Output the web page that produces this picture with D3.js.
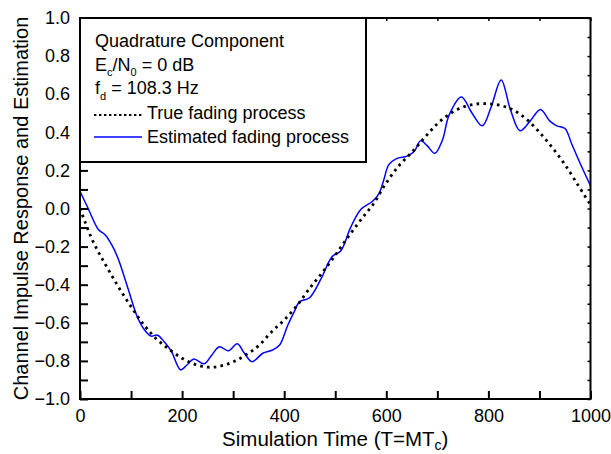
<!DOCTYPE html>
<html>
<head>
<meta charset="utf-8">
<script src="https://cdn.jsdelivr.net/npm/d3@7"></script>
<style>
  body { margin: 0; background: #fff; }
  svg { display: block; font-family: "Liberation Sans", Arial, Helvetica, sans-serif; }
</style>
</head>
<body>
<script>
// true fading process (dotted)
const timeTrue = [0, 25, 50, 75, 100, 125, 150, 175, 200, 225, 250, 275, 300, 325, 350, 375, 400, 425, 450, 475,
    500, 525, 550, 575, 600, 625, 650, 675, 700, 725, 750, 775, 800, 825, 850, 875, 900, 925, 950, 975, 1000]
const trueFading = [0.0, -0.17, -0.295, -0.41, -0.515, -0.61, -0.685, -0.74, -0.786, -0.818, -0.833, -0.827, -0.805, -0.768, -0.72, -0.648, -0.585, -0.51, -0.418, -0.335,
    -0.245, -0.15, -0.06, 0.025, 0.135, 0.225, 0.295, 0.372, 0.445, 0.498, 0.532, 0.548, 0.55, 0.54, 0.515, 0.468, 0.4, 0.32, 0.23, 0.125, 0.02]

// estimated fading process (blue)
const timeEst = [0, 16, 36, 50, 62, 75, 94, 114, 130, 139, 152, 165, 179, 197, 210, 223, 243, 258, 273, 291,
    308, 322, 337, 358, 377, 391, 407, 420, 430, 449, 472, 494, 511, 530, 550, 573, 586, 595, 605, 620,
    641, 655, 667, 680, 695, 710, 723, 747, 768, 788, 805, 825, 843, 862, 882, 902, 920, 934, 950, 963, 980, 1000]
const estFading = [0.09, 0.0, -0.11, -0.14, -0.19, -0.265, -0.42, -0.58, -0.65, -0.67, -0.665, -0.7, -0.75, -0.847, -0.82, -0.79, -0.815, -0.77, -0.726, -0.747,
    -0.71, -0.76, -0.804, -0.76, -0.743, -0.717, -0.613, -0.54, -0.49, -0.47, -0.37, -0.252, -0.222, -0.1, -0.005, 0.038, 0.08, 0.15, 0.23, 0.262,
    0.275, 0.3, 0.355, 0.33, 0.29, 0.36, 0.49, 0.585, 0.5, 0.434, 0.53, 0.675, 0.52, 0.408, 0.46, 0.52, 0.46, 0.434, 0.42, 0.34, 0.235, 0.12]

const xTickValues = d3.range(0, 1001, 100)
const xLabelValues = [0, 200, 400, 600, 800, 1000]
const yTickValues = d3.range(-10, 11).map(d => d / 10)
const yLabelValues = [-1.0, -0.8, -0.6, -0.4, -0.2, 0.0, 0.2, 0.4, 0.6, 0.8, 1.0]

const width = 611
const height = 454
const plotLeft = 80, plotRight = 590.5, plotTop = 18, plotBottom = 399

const x = d3.scaleLinear([0, 1000], [plotLeft, plotRight])
const y = d3.scaleLinear([-1, 1], [plotBottom, plotTop])

const svg = d3.select("body").append("svg")
    .attr("width", width)
    .attr("height", height)

// curves
const clipId = "plotclip"
svg.append("clipPath").attr("id", clipId)
    .append("rect").attr("x", plotLeft).attr("y", plotTop).attr("width", plotRight - plotLeft).attr("height", plotBottom - plotTop)

const line = d3.line().x(d => x(d[0])).y(d => y(d[1])).curve(d3.curveCatmullRom.alpha(0.5))

svg.append("path")
    .datum(d3.zip(timeEst, estFading))
    .attr("clip-path", `url(#${clipId})`)
    .attr("fill", "none")
    .attr("stroke", "#0000ff")
    .attr("stroke-width", 1.5)
    .attr("d", line)

svg.append("path")
    .datum(d3.zip(timeTrue, trueFading))
    .attr("clip-path", `url(#${clipId})`)
    .attr("fill", "none")
    .attr("stroke", "#000")
    .attr("stroke-width", 2.8)
    .attr("stroke-dasharray", "2.6,4.2")
    .attr("d", line)

// axes, ticks pointing inward
const fmtY = d3.format(".1f")

svg.append("g")
    .attr("transform", `translate(0,${plotBottom})`)
    .call(d3.axisBottom(x).tickValues(xTickValues).tickSizeInner(-8).tickSizeOuter(0).tickPadding(10)
        .tickFormat(d => xLabelValues.includes(d) ? d : ""))
    .call(g => g.select(".domain").remove())
    .call(g => g.selectAll(".tick line").attr("stroke", "#000").attr("stroke-width", 2))
    .call(g => g.selectAll("text").attr("font-size", 18).attr("font-family", null).attr("fill", "#000"))

svg.append("g")
    .attr("transform", `translate(${plotLeft},0)`)
    .call(d3.axisLeft(y).tickValues(yTickValues).tickSizeInner(-8).tickSizeOuter(0).tickPadding(10)
        .tickFormat(d => yLabelValues.some(v => Math.abs(v - d) < 1e-9) ? fmtY(d) : ""))
    .call(g => g.select(".domain").remove())
    .call(g => g.selectAll(".tick line").attr("stroke", "#000").attr("stroke-width", 2))
    .call(g => g.selectAll("text").attr("font-size", 18).attr("font-family", null).attr("fill", "#000"))

svg.append("g")
    .attr("transform", `translate(0,${plotTop})`)
    .call(d3.axisTop(x).tickValues(xTickValues).tickSizeInner(-3).tickSizeOuter(0).tickFormat(""))
    .call(g => g.select(".domain").remove())
    .call(g => g.selectAll(".tick line").attr("stroke", "#000").attr("stroke-width", 1.5))

svg.append("g")
    .attr("transform", `translate(${plotRight},0)`)
    .call(d3.axisRight(y).tickValues(yTickValues).tickSizeInner(-3).tickSizeOuter(0).tickFormat(""))
    .call(g => g.select(".domain").remove())
    .call(g => g.selectAll(".tick line").attr("stroke", "#000").attr("stroke-width", 1.5))

// frame
svg.append("rect")
    .attr("x", plotLeft).attr("y", plotTop)
    .attr("width", plotRight - plotLeft).attr("height", plotBottom - plotTop)
    .attr("fill", "none").attr("stroke", "#000").attr("stroke-width", 2)

// legend box
const lg = svg.append("g").attr("font-size", 18)
lg.append("rect")
    .attr("x", plotLeft).attr("y", plotTop)
    .attr("width", 286).attr("height", 144)
    .attr("fill", "#fff").attr("stroke", "#000").attr("stroke-width", 2)

lg.append("text").attr("x", 95).attr("y", 47).text("Quadrature Component")

const t2 = lg.append("text").attr("x", 95).attr("y", 71)
t2.append("tspan").text("E")
t2.append("tspan").attr("font-size", 11).attr("dy", 5).text("c")
t2.append("tspan").attr("dy", -5).text("/N")
t2.append("tspan").attr("font-size", 11).attr("dy", 5).text("0")
t2.append("tspan").attr("dy", -5).text(" = 0 dB")

const t3 = lg.append("text").attr("x", 95).attr("y", 94)
t3.append("tspan").text("f")
t3.append("tspan").attr("font-size", 11).attr("dy", 6).text("d")
t3.append("tspan").attr("dy", -6).text(" = 108.3 Hz")

lg.append("line").attr("x1", 94).attr("x2", 142).attr("y1", 115).attr("y2", 115)
    .attr("stroke", "#000").attr("stroke-width", 2).attr("stroke-dasharray", "2.4,2.6")
lg.append("text").attr("x", 147).attr("y", 119).text("True fading process")

lg.append("line").attr("x1", 94).attr("x2", 142).attr("y1", 137).attr("y2", 137)
    .attr("stroke", "#0000ff").attr("stroke-width", 1.5)
lg.append("text").attr("x", 147).attr("y", 143).text("Estimated fading process")

// axis titles
const xt = svg.append("text")
    .attr("x", (plotLeft + plotRight) / 2).attr("y", 446)
    .attr("text-anchor", "middle").attr("font-size", 20.5)
xt.append("tspan").text("Simulation Time (T=MT")
xt.append("tspan").attr("font-size", 14).attr("dy", 3.5).text("c")
xt.append("tspan").attr("dy", -3.5).text(")")

svg.append("text")
    .attr("transform", `translate(28,${(plotTop + plotBottom) / 2}) rotate(-90)`)
    .attr("text-anchor", "middle").attr("font-size", 20)
    .text("Channel Impulse Response and Estimation")
</script>
</body>
</html>
